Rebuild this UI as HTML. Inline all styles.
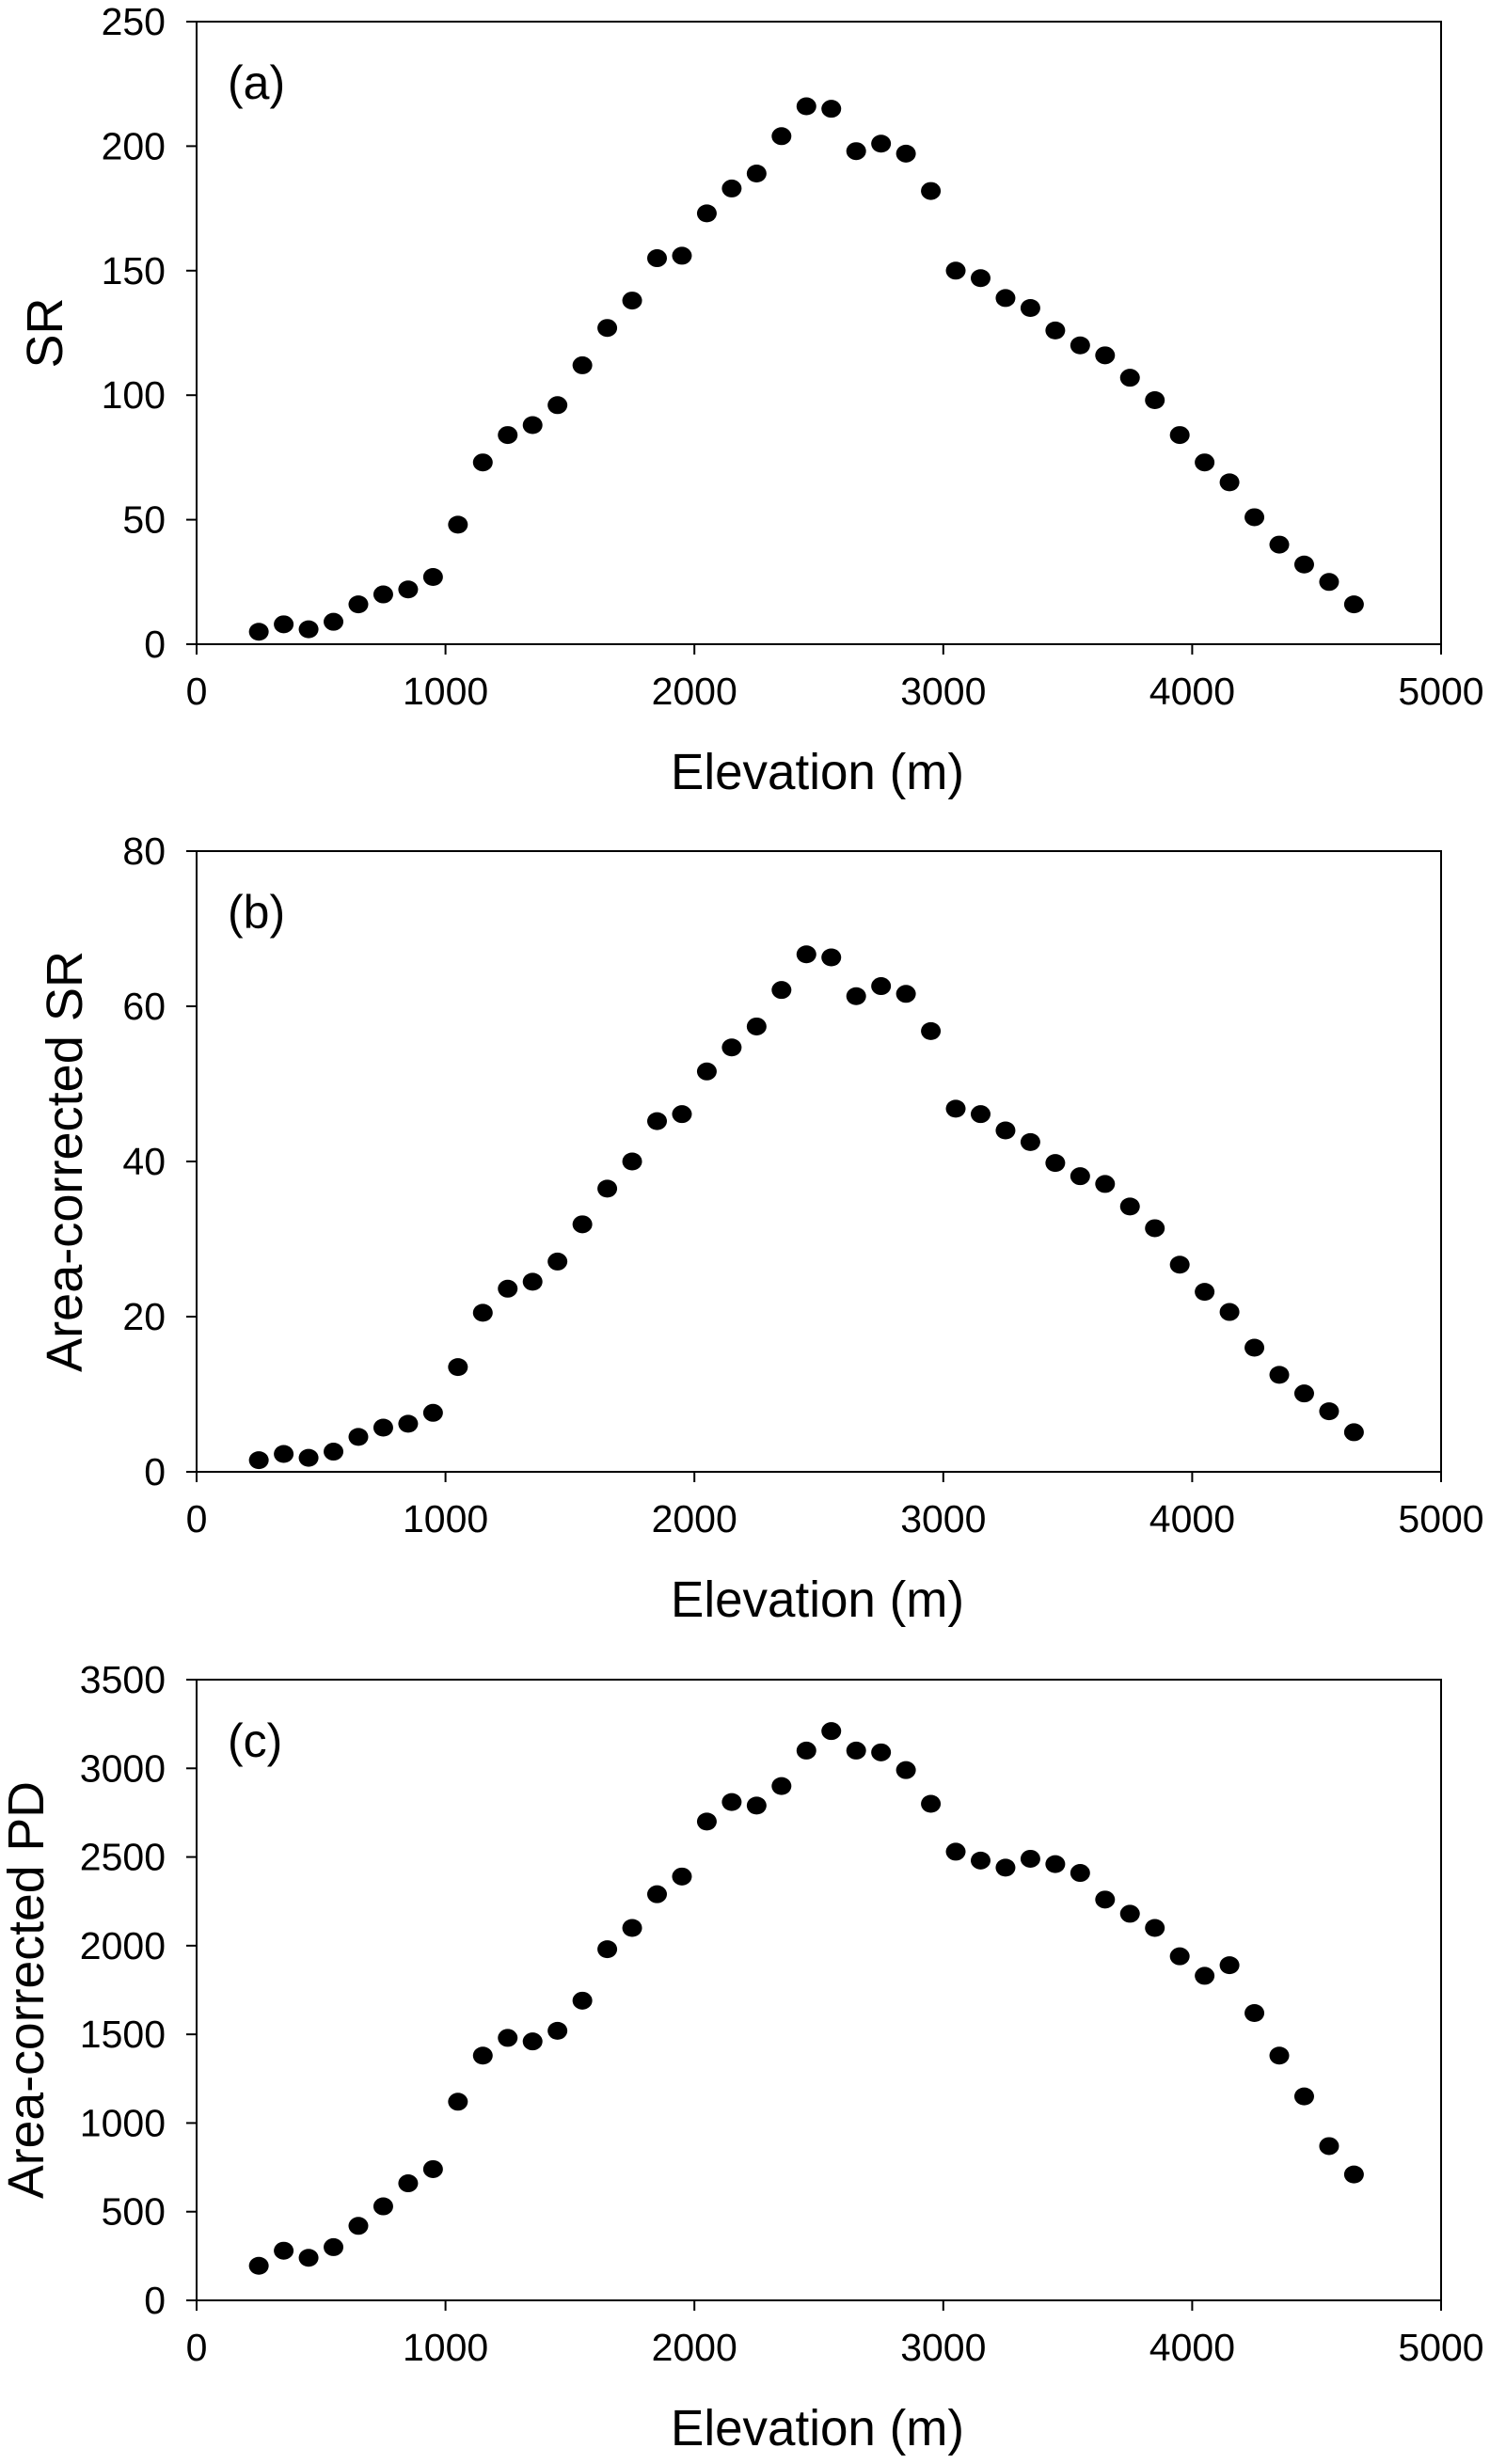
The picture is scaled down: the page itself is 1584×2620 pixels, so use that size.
<!DOCTYPE html>
<html><head><meta charset="utf-8"><style>
html,body{margin:0;padding:0;background:#fff;}
svg{display:block;font-family:"Liberation Sans",Arial,sans-serif;}
</style></head><body>
<svg id="fig" width="1584" height="2620" viewBox="0 0 1584 2620" xmlns="http://www.w3.org/2000/svg"></svg>
<script>
const elevations = [250,350,450,550,650,750,850,950,1050,1150,1250,1350,1450,1550,1650,1750,1850,1950,2050,2150,2250,2350,2450,2550,2650,2750,2850,2950,3050,3150,3250,3350,3450,3550,3650,3750,3850,3950,4050,4150,4250,4350,4450,4550,4650];
const srValues = [5,8,6,9,16,20,22,27,48,73,84,88,96,112,127,138,155,156,173,183,189,204,216,215,198,201,197,182,150,147,139,135,126,120,116,107,98,84,73,65,51,40,32,25,16];
const acSrValues = [1.5,2.3,1.8,2.6,4.5,5.7,6.2,7.6,13.5,20.5,23.6,24.5,27.1,31.9,36.5,40,45.2,46.1,51.6,54.7,57.4,62.1,66.7,66.3,61.3,62.6,61.6,56.8,46.8,46.1,44,42.5,39.8,38.1,37.1,34.2,31.4,26.7,23.2,20.6,16,12.5,10.1,7.8,5.1];
const acPdValues = [195,280,240,300,420,530,660,740,1120,1380,1480,1460,1520,1690,1980,2100,2290,2390,2700,2810,2790,2900,3100,3210,3100,3090,2990,2800,2530,2480,2440,2490,2460,2410,2260,2180,2100,1940,1830,1890,1620,1380,1150,870,710];
const xTicks = [0,1000,2000,3000,4000,5000];
const yTicksA = [0,50,100,150,200,250];
const yTicksB = [0,20,40,60,80];
const yTicksC = [0,500,1000,1500,2000,2500,3000,3500];

const NS = "http://www.w3.org/2000/svg";
const svg = document.getElementById('fig');
function mk(tag, attrs, parent){const e=document.createElementNS(NS,tag);for(const k in attrs)e.setAttribute(k,attrs[k]);(parent||svg).appendChild(e);return e;}

const X0 = 209, X1 = 1532;
function xScale(v){return X0 + (v-0)/(5000-0)*(X1-X0);}

const panels = [
  {id:'a', top:23, bot:685, max:250, ticks:yTicksA, vals:srValues, title:'SR', tx:47, tlen:null},
  {id:'b', top:905, bot:1565, max:80, ticks:yTicksB, vals:acSrValues, title:'Area-corrected SR', tx:68, tlen:448},
  {id:'c', top:1786, bot:2446, max:3500, ticks:yTicksC, vals:acPdValues, title:'Area-corrected PD', tx:27, tlen:444}
];

panels.forEach(p=>{
  const g = mk('g',{});
  
  
  const yScale = v => p.bot - v/p.max*(p.bot-p.top);
  const frame = mk('rect',{x:X0,y:p.top,width:X1-X0,height:p.bot-p.top,fill:'none',stroke:'#000','stroke-width':2},g);
  
  
  p.ticks.forEach(t=>{
    const y=yScale(t);
    const tk=mk('line',{x1:X0-11,x2:X0,y1:y,y2:y,stroke:'#000','stroke-width':2},g);
    
    
    const tl=mk('text',{x:176,y:y+14,'text-anchor':'end','font-size':41},g);
    tl.textContent=t;
    
    
  });
  xTicks.forEach(t=>{
    const x=xScale(t);
    const tk=mk('line',{x1:x,x2:x,y1:p.bot,y2:p.bot+11,stroke:'#000','stroke-width':2},g);
    
    
    const tl=mk('text',{x:x,y:p.bot+64,'text-anchor':'middle','font-size':41},g);
    tl.textContent=t;
    
    
  });
  const xt=mk('text',{x:869,y:p.bot+154,'text-anchor':'middle','font-size':54,textLength:312,lengthAdjust:'spacingAndGlyphs'},g);
  xt.textContent='Elevation (m)';
  
  
  const cy=(p.top+p.bot)/2;
  const yattrs={x:0,y:0,'text-anchor':'middle','font-size':54,transform:`translate(${p.tx+19},${cy}) rotate(-90)`};
  if(p.tlen){yattrs.textLength=p.tlen;yattrs.lengthAdjust='spacingAndGlyphs';}
  const yt=mk('text',yattrs,g);
  yt.textContent=p.title;
  
  
  const pl=mk('text',{x:242,y:p.top+82,'font-size':50},g);
  pl.textContent='('+p.id+')';
  
  
  p.vals.forEach((v,i)=>{
    const c=mk('ellipse',{cx:xScale(elevations[i]),cy:yScale(v),rx:10.5,ry:9.5,fill:'#000'},g);
    
    
  });
});
</script>
</body></html>
